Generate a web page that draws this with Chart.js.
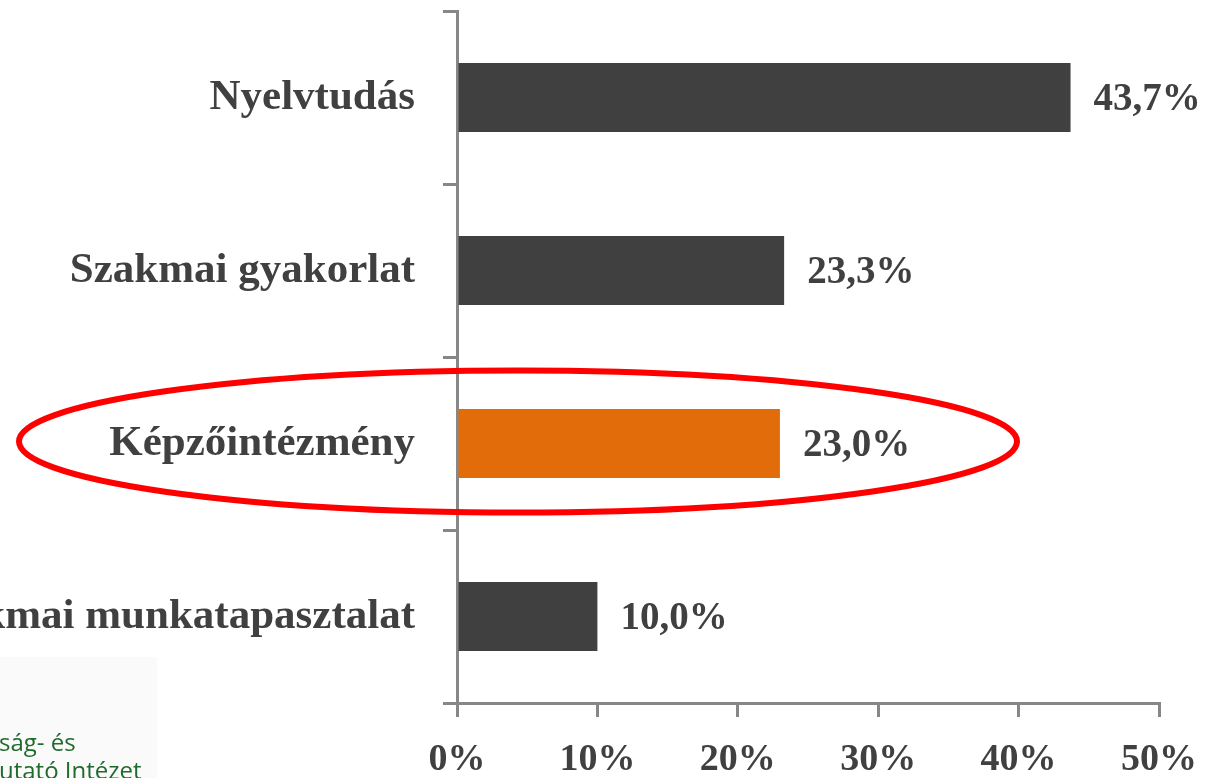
<!DOCTYPE html>
<html>
<head>
<meta charset="utf-8">
<script src="https://cdn.jsdelivr.net/npm/chart.js@4.4.0/dist/chart.umd.min.js"></script>
<style>
	html, body { margin: 0; padding: 0; background: #fff; overflow: hidden; }
	#wrap { width: 1207px; height: 778px; position: relative; }
</style>
</head>
<body>
<div id="wrap"><canvas id="chart"></canvas></div>
<script>
const categories = ['Nyelvtudás', 'Szakmai gyakorlat', 'Képzőintézmény', 'Szakmai munkatapasztalat']
const shares = [43.7, 23.3, 23.0, 10.0]
const barColors = ['#404040', '#404040', '#e36c0a', '#404040']
const xTicks = [0, 10, 20, 30, 40, 50]
const highlighted = 'Képzőintézmény'
const logoLines = ['ság- és', 'utató Intézet']

const serif = '"Liberation Serif", "DejaVu Serif", serif'
const textColor = '#404040'
const axisColor = '#878787'

//value labels right of each bar
const valueLabels = {
	id: 'valueLabels',
	afterDatasetsDraw(chart) {
		const ctx = chart.ctx
		const meta = chart.getDatasetMeta(0)
		ctx.save()
		ctx.font = `bold 39px ${serif}`
		ctx.fillStyle = textColor
		ctx.textBaseline = 'middle'
		ctx.textAlign = 'left'
		meta.data.forEach((bar, i) => {
			const txt = shares[i].toFixed(1).replace('.', ',') + '%'
			ctx.fillText(txt, bar.x + 23, bar.y + 2)
		})
		ctx.restore()
	},
}

//red ellipse round the highlighted row + the cropped logo in the corner
const overlay = {
	id: 'overlay',
	beforeDraw(chart) {
		const ctx = chart.ctx
		ctx.save()
		ctx.fillStyle = '#fafafa'
		ctx.fillRect(0, 657, 157, 121)
		ctx.fillStyle = '#1e6b2c'
		ctx.font = '24px "Open Sans", "Noto Sans", sans-serif'
		ctx.textBaseline = 'alphabetic'
		ctx.fillText(logoLines[0], -1, 751)
		ctx.fillText(logoLines[1], -1, 779)
		ctx.restore()
	},
	afterDraw(chart) {
		const ctx = chart.ctx
		const y = chart.scales.y.getPixelForValue(categories.indexOf(highlighted))
		ctx.save()
		ctx.strokeStyle = '#ff0000'
		ctx.lineWidth = 6
		ctx.beginPath()
		ctx.ellipse(518, y - 2, 499, 71, 0, 0, Math.PI * 2)
		ctx.stroke()
		ctx.restore()
	},
}

new Chart(document.querySelector('#chart').getContext('2d'), {
	type: 'bar',
	data: {
		labels: categories,
		datasets: [
			{
				data: shares,
				backgroundColor: barColors,
				borderWidth: 0,
				barPercentage: 0.4,
				categoryPercentage: 1,
			},
		],
	},
	options: {
		indexAxis: 'y',
		responsive: true,
		maintainAspectRatio: false,
		animation: false,
		layout: { padding: { top: 11, right: 48, left: 0, bottom: 0 } },
		plugins: {
			legend: { display: false },
			tooltip: { enabled: false },
		},
		scales: {
			x: {
				min: xTicks[0],
				max: xTicks[xTicks.length - 1],
				afterBuildTicks: scale => {
					scale.ticks = xTicks.map(v => ({ value: v }))
				},
				afterFit: scale => {
					scale.height = 75
					scale.paddingLeft = 0
					scale.paddingRight = 0
				},
				border: { display: true, color: axisColor, width: 3 },
				grid: {
					drawOnChartArea: false,
					drawTicks: true,
					tickLength: 14,
					color: axisColor,
					lineWidth: 3,
				},
				ticks: {
					padding: 20,
					color: textColor,
					font: { family: serif, size: 38, weight: 'bold' },
					callback: v => v + '%',
				},
			},
			y: {
				afterFit: scale => {
					scale.width = 457
					scale.paddingTop = 0
					scale.paddingBottom = 0
				},
				border: { display: true, color: axisColor, width: 3 },
				grid: {
					offset: true,
					drawOnChartArea: false,
					drawTicks: true,
					tickLength: 14,
					color: axisColor,
					lineWidth: 3,
				},
				ticks: {
					padding: 28,
					color: textColor,
					font: { family: serif, size: 43, weight: 'bold' },
				},
			},
		},
	},
	plugins: [valueLabels, overlay],
})
</script>
</body>
</html>
